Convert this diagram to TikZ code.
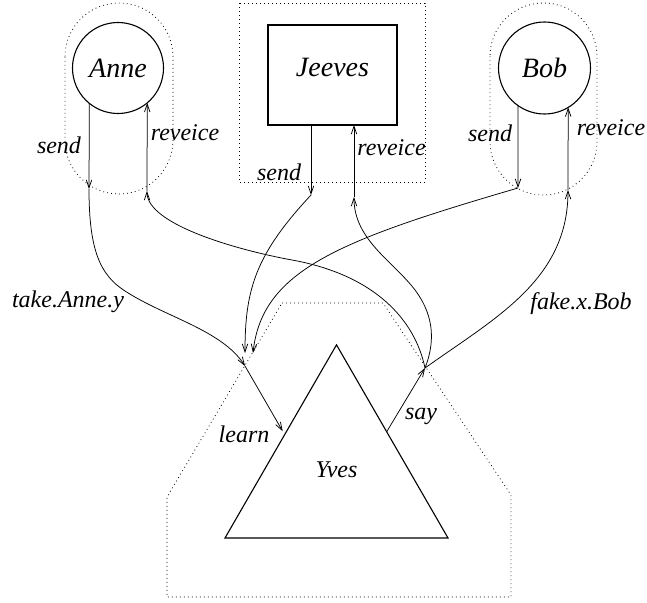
\documentclass[tikz,border=0pt]{standalone}
\usepackage{fontspec}
\setmainfont{Liberation Serif}
\usetikzlibrary{arrows.meta,shapes.geometric,calc}

\begin{document}
\begin{tikzpicture}[x=1pt,y=-1pt,
  namefont/.style={font=\fontsize{28}{30}\selectfont\itshape},
  lbl/.style={font=\fontsize{24}{26}\selectfont\itshape, inner sep=0pt},
  proc/.style={draw, line width=1.1pt, outer sep=0pt},
  wire/.style={line width=0.75pt, -{Straight Barb[length=8pt,width=5.5pt]}},
  region/.style={line width=0.8pt, dash pattern=on 0.8pt off 3.2pt},
]
\useasboundingbox (0,0) rectangle (647,602);

% dotted scopes around the agents
\draw[region, rounded corners=53.9pt] (65,3) rectangle (173,194);
\draw[region, rounded corners=53.4pt] (490,3) rectangle (597,195);
\draw[region] (239,3) rectangle (425,182);
\draw[region] (282,303) -- (383,303) -- (511,495) -- (511,597)
              -- (167,597) -- (167,497) -- cycle;

% agents
\node[proc, circle, minimum size=91pt, inner sep=0pt, namefont] (Anne) at (118,68) {Anne};
\node[proc, circle, minimum size=92pt, inner sep=0pt, namefont] (Bob) at (544.5,68) {Bob};
\node[proc, rectangle, minimum width=129pt, minimum height=100pt,
      text height=10pt, text depth=8pt, namefont] (Jeeves) at (332.5,75) {Jeeves};
\node[proc, regular polygon, regular polygon sides=3, minimum size=257.5pt,
      text height=16pt, text depth=7.8pt, font=\fontsize{24}{26}\selectfont\itshape]
      (Yves) at (336.5,473.6) {Yves};

% ports
\coordinate (AnneOut) at (89,189);
\coordinate (AnneIn) at (147,191);
\coordinate (JeevesOut) at (311,195);
\coordinate (JeevesIn) at (354,197);
\coordinate (BobOut) at (518,188);
\coordinate (BobIn) at (568,190);
\coordinate (Learn) at (245,366);
\coordinate (LearnJ) at (245,353);
\coordinate (LearnB) at (253,353);
\coordinate (Say) at (425,368);
\coordinate (YvesL) at ($(Yves.corner 1)!0.465!(Yves.corner 2)$);
\coordinate (YvesR) at ($(Yves.corner 1)!0.45!(Yves.corner 3)$);

% local send / receive actions
\draw[wire] (Anne.-129.6) -- (AnneOut);
\draw[wire] (AnneIn) -- (Anne.-50.4);
\draw[wire] (Jeeves.south -| JeevesOut) -- (JeevesOut);
\draw[wire] (JeevesIn) -- (Jeeves.south -| JeevesIn);
\draw[wire] (Bob.-125.2) -- (BobOut);
\draw[wire] (BobIn) -- (Bob.-59.3);

% the intruder's actions
\draw[wire, shorten >=4pt] (Learn) -- (YvesL);
\draw[wire] (YvesR) -- (Say);

% channels towards the intruder
\draw[wire] (AnneOut) .. controls (89,250) and (100,275) .. (125,291)
            .. controls (165,317) and (222,330) .. (Learn);
\draw[wire] (JeevesOut) .. controls (255,255) and (245,290) .. (LearnJ);
\draw[wire] (BobOut) .. controls (340,240) and (262,270) .. (LearnB);

% channels from the intruder
\draw[wire] (Say) .. controls (415,320) and (375,275) .. (292,260)
            .. controls (240,250.6) and (147,225) .. (AnneIn);
\draw[wire] (Say) .. controls (434,345) and (436,318) .. (415,290)
            .. controls (394,262) and (354,240) .. (JeevesIn);
\draw[wire] (Say) .. controls (495,318) and (568,280) .. (BobIn);

% labels
\node[lbl] (lAnneSend) at (59,145) {send};
\node[lbl] (lAnneRecv) at (185,133) {reveice};
\node[lbl] (lJeevesSend) at (279,172) {send};
\node[lbl] (lJeevesRecv) at (391.5,148) {reveice};
\node[lbl] (lBobSend) at (490,133) {send};
\node[lbl] (lBobRecv) at (611,128) {reveice};
\node[lbl] (lTake) at (68,302) {take.Anne.y};
\node[lbl] (lFake) at (581,304) {fake.x.Bob};
\node[lbl] (lLearn) at (244,434) {learn};
\node[lbl] (lSay) at (421,416) {say};
\end{tikzpicture}
\end{document}
